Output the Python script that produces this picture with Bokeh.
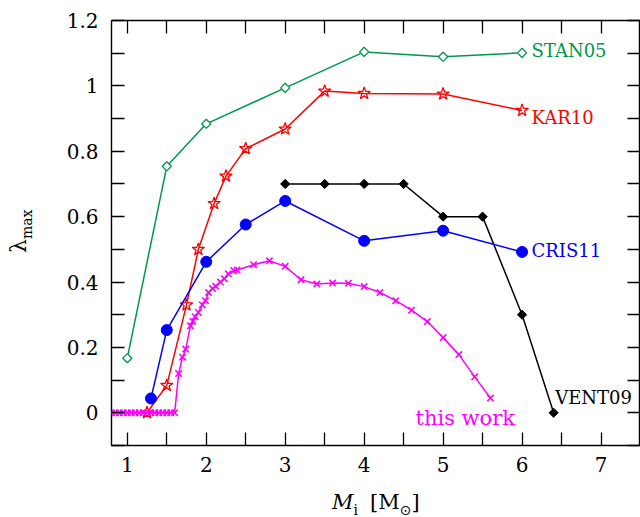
import numpy as np
from bokeh.plotting import figure
from bokeh.layouts import row, column
from bokeh.models import (Range1d, LinearAxis, FixedTicker, CustomJSTickFormatter,
                          Label, Div)
from bokeh.embed import file_html
from bokeh.resources import INLINE

# ---------------- data ----------------
stan_x = [1, 1.5, 2, 3, 4, 5, 6]
stan_y = [0.167, 0.754, 0.884, 0.994, 1.104, 1.089, 1.101]

kar_x = [1.25, 1.5, 1.75, 1.9, 2.1, 2.25, 2.5, 3, 3.5, 4, 5, 6]
kar_y = [0.0, 0.084, 0.33, 0.50, 0.64, 0.724, 0.808, 0.868, 0.984, 0.977, 0.975, 0.925]

cris_x = [1.3, 1.5, 2, 2.5, 3, 4, 5, 6]
cris_y = [0.044, 0.253, 0.462, 0.576, 0.648, 0.526, 0.557, 0.492]

vent_x = [3, 3.5, 4, 4.5, 5, 5.5, 6, 6.4]
vent_y = [0.70, 0.70, 0.70, 0.70, 0.60, 0.60, 0.30, 0.0]

work_x = [0.8, 0.85, 0.9, 0.95, 1.0, 1.05, 1.1, 1.15, 1.2, 1.25, 1.3, 1.35, 1.4,
          1.45, 1.5, 1.55, 1.6,
          1.65, 1.70, 1.74, 1.80, 1.83, 1.86, 1.90, 1.95, 1.99, 2.03, 2.08, 2.12,
          2.18, 2.23, 2.28, 2.35, 2.39, 2.6, 2.8, 3.0, 3.2, 3.4, 3.6, 3.8, 4.0,
          4.2, 4.4, 4.6, 4.8, 5.0, 5.2, 5.4, 5.6]
work_y = [0.0] * 17 + [
          0.12, 0.17, 0.195, 0.266, 0.28, 0.294, 0.307, 0.33, 0.343, 0.368, 0.38,
          0.387, 0.40, 0.41, 0.425, 0.435, 0.437, 0.453, 0.465, 0.448, 0.407,
          0.394, 0.397, 0.396, 0.386, 0.368, 0.343, 0.314, 0.279, 0.23, 0.178,
          0.11, 0.045]

x_ticks = [1, 2, 3, 4, 5, 6, 7]
x_minor = [1.5, 2.5, 3.5, 4.5, 5.5, 6.5]
y_ticks = [0, 0.2, 0.4, 0.6, 0.8, 1.0, 1.2]
y_minor = [-0.1, 0.1, 0.3, 0.5, 0.7, 0.9, 1.1]

GREEN = "#00974c"
RED = "#ff0000"
BLUE = "#0000ff"
MAG = "#ff00ff"
BLACK = "#000000"
SERIF = "DejaVu Serif"

# ---------------- figure ----------------
p = figure(width=600, height=490, output_backend="svg", toolbar_location=None,
           x_range=Range1d(0.8, 7.5), y_range=Range1d(-0.1, 1.2),
           min_border_left=71, min_border_right=0, min_border_top=20,
           min_border_bottom=45, x_axis_location=None, y_axis_location=None)
p.grid.visible = False
p.outline_line_color = "black"
p.outline_line_width = 1.4
p.background_fill_color = "white"
p.border_fill_color = "white"

fmt = CustomJSTickFormatter(code="return String(Math.round(tick*10)/10);")
empty = CustomJSTickFormatter(code="return '';")


def style(ax, labels):
    ax.axis_line_color = None
    ax.major_tick_in = 13
    ax.major_tick_out = 0
    ax.minor_tick_in = 13
    ax.minor_tick_out = 0
    ax.major_tick_line_width = 1.3
    ax.minor_tick_line_width = 1.3
    if labels:
        ax.formatter = fmt
        ax.major_label_text_font = SERIF
        ax.major_label_text_font_size = "20px"
        ax.major_label_text_color = "black"
    else:
        ax.formatter = empty
        ax.major_label_text_font_size = "0px"
        ax.major_label_standoff = 0


xb = LinearAxis(ticker=FixedTicker(ticks=x_ticks, minor_ticks=x_minor))
style(xb, True)
xb.major_label_standoff = 11
p.add_layout(xb, "below")
xt = LinearAxis(ticker=FixedTicker(ticks=x_ticks, minor_ticks=x_minor))
style(xt, False)
p.add_layout(xt, "above")
yl = LinearAxis(ticker=FixedTicker(ticks=y_ticks, minor_ticks=y_minor))
style(yl, True)
yl.major_label_standoff = 13
p.add_layout(yl, "left")
yr = LinearAxis(ticker=FixedTicker(ticks=y_ticks, minor_ticks=y_minor))
style(yr, False)
p.add_layout(yr, "right")

# ---------------- series ----------------
LW = 1.5
p.line(stan_x, stan_y, line_color=GREEN, line_width=LW)
p.scatter(stan_x, stan_y, marker="square", angle=np.pi / 4, size=6.5,
          fill_color="white", line_color=GREEN, line_width=1.3)

p.line(kar_x, kar_y, line_color=RED, line_width=LW)
p.scatter(kar_x, kar_y, marker="star", size=13, fill_color=None,
          line_color=RED, line_width=1.3)

p.line(vent_x, vent_y, line_color=BLACK, line_width=LW)
p.scatter(vent_x, vent_y, marker="square", angle=np.pi / 4, size=6.5,
          fill_color=BLACK, line_color=BLACK)

p.line(cris_x, cris_y, line_color=BLUE, line_width=LW)
p.scatter(cris_x, cris_y, marker="circle", size=11, fill_color=BLUE,
          line_color=BLUE)

p.line(work_x, work_y, line_color=MAG, line_width=LW)
p.scatter(work_x, work_y, marker="x", size=9, line_color=MAG, line_width=1.6)

# ---------------- series labels ----------------
for txt, x, y, col in [("STAN05", 6.12, 1.108, GREEN), ("KAR10", 6.12, 0.903, RED),
                       ("CRIS11", 6.12, 0.496, BLUE), ("VENT09", 6.42, 0.047, BLACK)]:
    p.add_layout(Label(x=x, y=y, text=txt, text_color=col, text_font=SERIF,
                       text_font_size="18px", text_baseline="middle",
                       text_align="left"))
p.add_layout(Label(x=4.65, y=-0.015, text="this work", text_color=MAG,
                   text_font=SERIF, text_font_size="21px",
                   text_baseline="middle", text_align="left"))

# ---------------- axis titles as HTML ----------------
xlab_html = (
    '<div style="position:relative; left:292px; top:2px; white-space:nowrap; '
    'font-family:\'DejaVu Serif\'; font-size:21px; line-height:1; color:black">'
    '<i>M</i><span style="position:relative; top:6px; font-size:14px">i</span>'
    '<span style="margin-left:12px">[M</span>'
    '<span style="position:relative; top:6px; font-size:14px; '
    'font-family:\'DejaVu Sans\'">\u2299</span>]</div>'
)
ylab_html = (
    '<div style="position:relative; left:8px; top:253px; width:max-content; '
    'white-space:nowrap; transform-origin:0 0; transform:rotate(-90deg); '
    'font-family:\'DejaVu Serif\'; font-size:22px; line-height:1; color:black">'
    '\u03bb<span style="position:relative; top:6px; font-size:14px">max</span></div>'
)
xdiv = Div(text=xlab_html, width=600, height=27, margin=0)
ydiv = Div(text=ylab_html, width=40, height=517, margin=0)

layout = row(ydiv, column(p, xdiv, spacing=0), spacing=0)

open("out.html", "w").write(file_html(layout, INLINE))
